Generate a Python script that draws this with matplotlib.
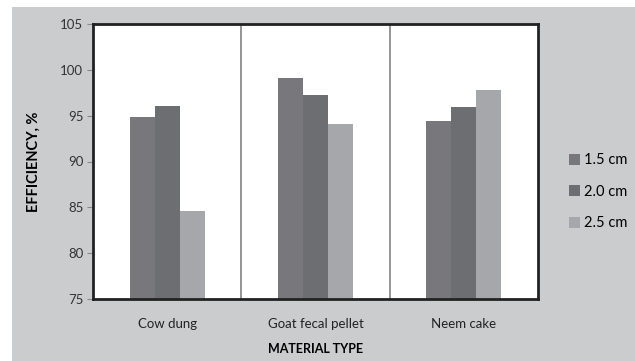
import numpy as np
import matplotlib
matplotlib.use('Agg')
import matplotlib.pyplot as plt
from matplotlib.patches import Rectangle

plt.rcParams['font.family'] = ['Lato', 'DejaVu Sans']

#--------------------------Data------------------------------------------------------

materials = ['Cow dung', 'Goat fecal pellet', 'Neem cake']
sizes = ['1.5 cm', '2.0 cm', '2.5 cm']
eff_15 = [94.9, 99.1, 94.4]
eff_20 = [96.0, 97.2, 95.9]
eff_25 = [84.6, 94.1, 97.8]
yticks = [75, 80, 85, 90, 95, 100, 105]

colors = ['#78787c', '#6d6e72', '#a6a7ab']

#--------------------------Figure----------------------------------------------------

fig = plt.figure(figsize=(6.35, 3.61), dpi=100)
fig.patch.set_facecolor('white')
fig.patches.append(Rectangle((12/635, 0), 1, 1 - 7/361, transform=fig.transFigure,
                             facecolor='#cbcccd', edgecolor='none', zorder=-5))

ax = fig.add_axes([93/635, 1 - 299/361, 445/635, 275/361])
ax.set_facecolor('white')

x = np.arange(len(materials))
w = 0.168
series = [eff_15, eff_20, eff_25]
for k, vals in enumerate(series):
    ax.bar(x + (k - 1) * w, np.array(vals) - 75, width=w, bottom=75,
           color=colors[k], label=sizes[k], zorder=2)

for sep in [0.5, 1.5]:          # group separators
    ax.axvline(sep, color='#8c8c8c', lw=1.3, zorder=1)

ax.set_xlim(-0.5, 2.5)
ax.set_ylim(75, 105)
ax.set_yticks(yticks)
ax.set_xticks(x)
ax.set_xticklabels(materials, fontsize=9.5, color='#222222')
ax.tick_params(axis='x', length=0, pad=14)
ax.tick_params(axis='y', length=4, width=0.8, color='#888888', labelsize=9.5,
               labelcolor='#333333', pad=3)

for s in ax.spines.values():
    s.set_linewidth(2)
    s.set_color('#222222')

ax.set_ylabel('EFFICIENCY, %', fontsize=10.5, fontweight='bold', labelpad=14)
ax.set_xlabel('MATERIAL TYPE', fontsize=9, fontweight='bold', labelpad=9)

leg = ax.legend(loc='center left', bbox_to_anchor=(1.04, 0.39), frameon=False,
                fontsize=10.5, handlelength=0.75, handleheight=0.75, handletextpad=0.3,
                labelspacing=1.2)

fig.savefig('out.png', dpi=100)
